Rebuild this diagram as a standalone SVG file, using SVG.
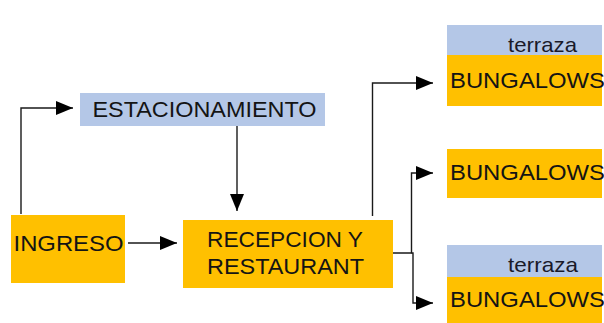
<svg xmlns="http://www.w3.org/2000/svg" width="604" height="323" viewBox="0 0 604 323">
<style>
.o{fill:#FFC000}
.b{fill:#B4C7E7}
.t{font-family:"Liberation Sans",Arial,sans-serif;font-size:22px;fill:#141414}
.s{font-family:"Liberation Sans",Arial,sans-serif;font-size:21px;fill:#1a1a2a}
.c{fill:none;stroke:#1a1a1a;stroke-width:1.4}
</style>
<defs>
<marker id="ah" markerUnits="userSpaceOnUse" markerWidth="17" markerHeight="14" refX="17" refY="7" orient="auto">
<path d="M0,0 L17,7 L0,14 z" fill="#000"/>
</marker>
</defs>
<rect width="604" height="323" fill="#fff"/>
<g id="estacionamiento">
<rect class="b" x="80" y="93" width="245" height="33"/>
<text class="t" x="92.5" y="117" textLength="224" lengthAdjust="spacingAndGlyphs">ESTACIONAMIENTO</text>
</g>
<g id="ingreso">
<rect class="o" x="11" y="215" width="114" height="68"/>
<text class="t" x="13.5" y="251" textLength="110" lengthAdjust="spacingAndGlyphs">INGRESO</text>
</g>
<g id="recepcion">
<rect class="o" x="183" y="220" width="210" height="68"/>
<text class="t" x="207" y="247" textLength="156" lengthAdjust="spacingAndGlyphs">RECEPCION Y</text>
<text class="t" x="207" y="273.5" textLength="157" lengthAdjust="spacingAndGlyphs">RESTAURANT</text>
</g>
<g id="bungalows1">
<rect class="b" x="447" y="25" width="155" height="30"/>
<rect class="o" x="447" y="55" width="155" height="51"/>
<text class="s" x="508" y="52" textLength="69" lengthAdjust="spacingAndGlyphs">terraza</text>
<text class="t" x="450" y="88" textLength="155" lengthAdjust="spacingAndGlyphs">BUNGALOWS</text>
</g>
<g id="bungalows2">
<rect class="o" x="447" y="149" width="155" height="49"/>
<text class="t" x="450" y="179.5" textLength="155" lengthAdjust="spacingAndGlyphs">BUNGALOWS</text>
</g>
<g id="bungalows3">
<rect class="b" x="447" y="245" width="155" height="32"/>
<rect class="o" x="447" y="277" width="155" height="46"/>
<text class="s" x="508" y="272" textLength="70" lengthAdjust="spacingAndGlyphs">terraza</text>
<text class="t" x="450" y="307" textLength="155" lengthAdjust="spacingAndGlyphs">BUNGALOWS</text>
</g>
<g id="connectors">
<path class="c" d="M21,214 V108 H73" marker-end="url(#ah)"/>
<path class="c" d="M237,126 V211" marker-end="url(#ah)"/>
<path class="c" d="M128,243 H177" marker-end="url(#ah)"/>
<path class="c" d="M372.5,216 V83 H433" marker-end="url(#ah)"/>
<path class="c" d="M393,253 H411.5 V173 H433" marker-end="url(#ah)"/>
<path class="c" d="M411.5,253 H413 V303 H433" marker-end="url(#ah)"/>
</g>
</svg>
